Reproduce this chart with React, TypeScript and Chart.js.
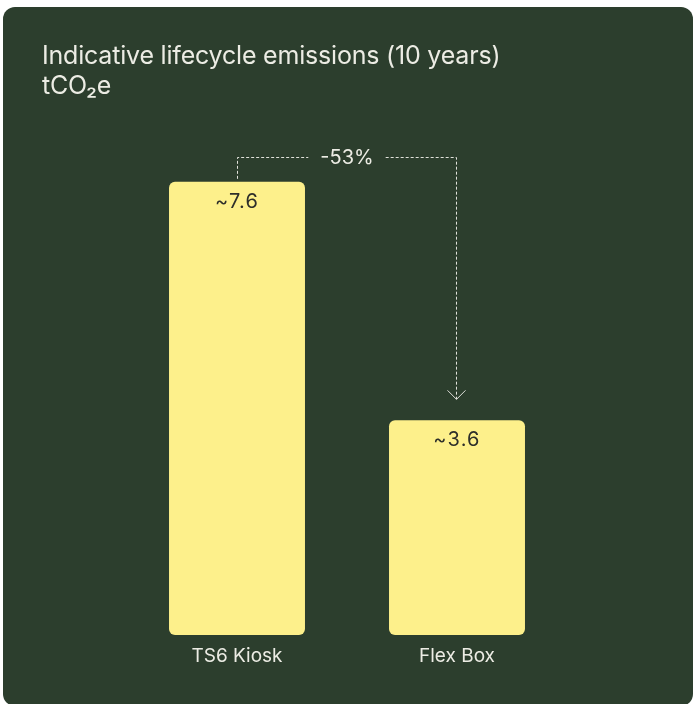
import { useEffect, useRef } from "react";
import { Chart, registerables } from "chart.js";

Chart.register(...registerables);

// Lifecycle emissions over 10 years, tCO2e
const categories: string[] = ["TS6 Kiosk", "Flex Box"];
const emissions: number[] = [7.6, 3.6];
const valueLabels: string[] = ["~7.6", "~3.6"];
const titleLines: string[] = ["Indicative lifecycle emissions (10 years)", "tCO₂e"];
const yMax = 8;

const CARD_BG = "#2c3e2d";
const BAR_FILL = "#fdf08b";
const LIGHT_TEXT = "#ecece4";
const DARK_TEXT = "#2e2f2a";

const changePct = Math.round((emissions[1] / emissions[0] - 1) * 100);
const changeLabel = `${changePct}%`;

// Value labels inside the bars plus the dashed "reduction" bracket with arrow
const bracketPlugin = {
  id: "bracket",
  afterDatasetsDraw(chart: any) {
    const ctx: CanvasRenderingContext2D = chart.ctx;
    const bars = chart.getDatasetMeta(0).data;
    const a = bars[0];
    const b = bars[1];

    ctx.save();
    ctx.font = '20px Inter';
    (ctx as any).letterSpacing = "1.2px";
    ctx.fillStyle = DARK_TEXT;
    ctx.textAlign = "center";
    ctx.textBaseline = "middle";
    bars.forEach((bar: any, i: number) => {
      ctx.fillText(valueLabels[i], bar.x, bar.y + 20);
    });
    (ctx as any).letterSpacing = "0px";

    const xa = Math.round(a.x) + 0.5;
    const xb = Math.round(b.x) - 0.5;
    const yLine = Math.round(a.y - 25) + 0.5;
    const mid = (a.x + b.x) / 2;
    ctx.font = '20px Inter';
    const half = ctx.measureText(changeLabel).width / 2 + 12;

    ctx.strokeStyle = "#e0e1da";
    ctx.lineWidth = 1;
    ctx.setLineDash([3, 2]);
    ctx.beginPath();
    ctx.moveTo(xa, a.y - 3);
    ctx.lineTo(xa, yLine);
    ctx.lineTo(mid - half, yLine);
    ctx.moveTo(mid + half, yLine);
    ctx.lineTo(xb, yLine);
    ctx.lineTo(xb, b.y - 21);
    ctx.stroke();

    ctx.setLineDash([]);
    const tipY = b.y - 21;
    ctx.beginPath();
    ctx.moveTo(xb - 9, tipY - 9);
    ctx.lineTo(xb, tipY);
    ctx.lineTo(xb + 9, tipY - 9);
    ctx.stroke();

    ctx.fillStyle = LIGHT_TEXT;
    ctx.fillText(changeLabel, mid, yLine);
    ctx.restore();
  },
};

function EmissionsChart() {
  const canvasRef = useRef<HTMLCanvasElement | null>(null);

  useEffect(() => {
    if (!canvasRef.current) return;
    const chart = new Chart(canvasRef.current, {
      type: "bar",
      data: {
        labels: categories,
        datasets: [
          {
            data: emissions,
            backgroundColor: BAR_FILL,
            borderRadius: 6,
            borderSkipped: false,
            barPercentage: 0.618,
            categoryPercentage: 1,
          },
        ],
      },
      options: {
        animation: false,
        responsive: false,
        maintainAspectRatio: false,
        layout: { padding: { left: 124, right: 126, top: 151, bottom: 0 } },
        plugins: {
          legend: { display: false },
          tooltip: { enabled: false },
          title: { display: false },
        },
        scales: {
          x: {
            grid: { display: false, drawTicks: false },
            border: { display: false },
            ticks: {
              color: LIGHT_TEXT,
              font: { family: "Inter", size: 19 },
              padding: 10,
            },
            afterFit: (scale: any) => {
              scale.height = 71;
            },
          },
          y: {
            display: false,
            min: 0,
            max: yMax,
          },
        },
      },
      plugins: [bracketPlugin],
    });
    return () => chart.destroy();
  }, []);

  return <canvas ref={canvasRef} width={690} height={699} style={{ position: "absolute", left: 0, top: 0 }} />;
}

export default function App() {
  return (
    <div
      style={{
        position: "fixed",
        left: 3,
        top: 7,
        width: 690,
        height: 699,
        background: CARD_BG,
        borderRadius: 12,
        overflow: "hidden",
      }}
    >
      <div
        style={{
          position: "absolute",
          left: 39,
          top: 33,
          color: LIGHT_TEXT,
          fontFamily: "Inter",
          fontSize: 25,
          lineHeight: "30px",
          letterSpacing: "-0.2px",
          zIndex: 1,
        }}
      >
        {titleLines.map((line) => (
          <div key={line}>{line}</div>
        ))}
      </div>
      <EmissionsChart />
    </div>
  );
}
